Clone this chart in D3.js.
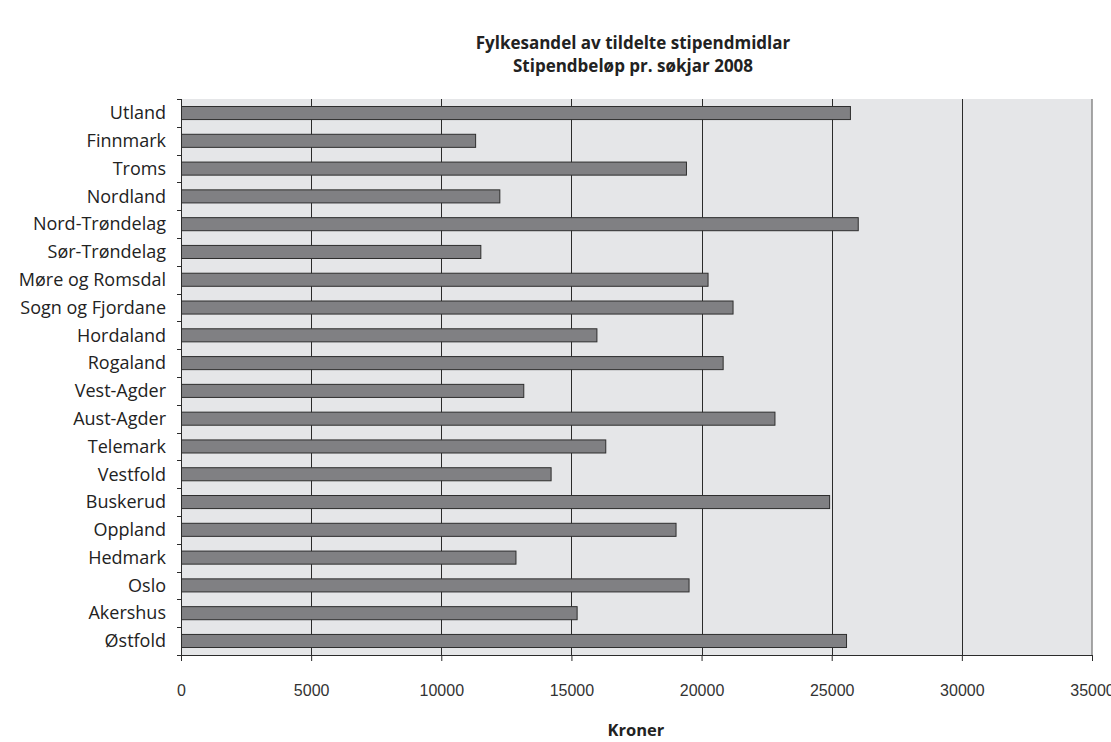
<!DOCTYPE html>
<html>
<head>
<meta charset="utf-8">
<script src="https://cdn.jsdelivr.net/npm/d3@7"></script>
<style>
  body { margin: 0; background: #fff; }
  svg { font-family: "Open Sans", sans-serif; }
</style>
</head>
<body>
<svg id="chart"></svg>
<script>
const W = 1111, H = 742;

// fylker, top to bottom as drawn
const fylker = ["Utland", "Finnmark", "Troms", "Nordland", "Nord-Trøndelag", "Sør-Trøndelag",
  "Møre og Romsdal", "Sogn og Fjordane", "Hordaland", "Rogaland", "Vest-Agder", "Aust-Agder",
  "Telemark", "Vestfold", "Buskerud", "Oppland", "Hedmark", "Oslo", "Akershus", "Østfold"];
const belop = [25700, 11300, 19400, 12230, 26000, 11500,
  20230, 21190, 15960, 20810, 13150, 22800,
  16300, 14200, 24900, 19000, 12850, 19500, 15200, 25550];
const xTicks = [0, 5000, 10000, 15000, 20000, 25000, 30000, 35000];
const titleLines = ["Fylkesandel av tildelte stipendmidlar", "Stipendbeløp pr. søkjar 2008"];
const xTitle = "Kroner";

const margin = { top: 99, right: 19, bottom: 87, left: 181 };
const width = W - margin.left - margin.right,
  height = H - margin.top - margin.bottom;

const svg = d3.select("#chart").attr("width", W).attr("height", H);
const g = svg.append("g").attr("transform", `translate(${margin.left},${margin.top})`);

const x = d3.scaleLinear().domain([0, 35000]).range([0, width]);
const y = d3.scaleBand().domain(fylker).range([0, height]).paddingInner(0.53).paddingOuter(0.27);

// plot background
g.append("rect")
  .attr("width", width).attr("height", height)
  .attr("fill", "#e5e6e8");

// right border
g.append("line")
  .attr("x1", width).attr("x2", width)
  .attr("y1", 0).attr("y2", height)
  .attr("stroke", "#8a8a8a").attr("stroke-width", 1.5);

// vertical gridlines
g.selectAll(".grid")
  .data(xTicks.filter(d => d > 0 && d < 35000))
  .join("line")
  .attr("class", "grid")
  .attr("x1", d => Math.round(x(d)) + 0.5).attr("x2", d => Math.round(x(d)) + 0.5)
  .attr("y1", 0).attr("y2", height)
  .attr("stroke", "#2b2b2b").attr("stroke-width", 1);

// bars
g.selectAll(".bar")
  .data(belop)
  .join("rect")
  .attr("class", "bar")
  .attr("x", 0.5)
  .attr("y", (d, i) => y(fylker[i]))
  .attr("width", d => x(d))
  .attr("height", y.bandwidth())
  .attr("fill", "#808083")
  .attr("stroke", "#2e2e2e")
  .attr("stroke-width", 1);

// x axis
const xAxis = g.append("g")
  .attr("transform", `translate(0,${height})`)
  .call(d3.axisBottom(x).tickValues(xTicks).tickSize(6).tickSizeOuter(0).tickPadding(24)
    .tickFormat(d3.format("d")));
xAxis.select(".domain").attr("stroke", "#2b2b2b");
xAxis.selectAll(".tick line").attr("stroke", "#2b2b2b");
xAxis.selectAll("text").attr("font-size", 16).attr("fill", "#333");

// y axis: ticks at band boundaries
const yAxis = g.append("g");
yAxis.append("line")
  .attr("x1", 0.5).attr("x2", 0.5).attr("y1", 0).attr("y2", height + 4)
  .attr("stroke", "#2b2b2b");
const step = height / fylker.length;
yAxis.selectAll(".ytick")
  .data(d3.range(fylker.length + 1))
  .join("line")
  .attr("class", "ytick")
  .attr("x1", -4).attr("x2", 0)
  .attr("y1", d => Math.round(d * step) + 0.5).attr("y2", d => Math.round(d * step) + 0.5)
  .attr("stroke", "#2b2b2b");
yAxis.selectAll(".ylabel")
  .data(fylker)
  .join("text")
  .attr("class", "ylabel")
  .attr("x", -15)
  .attr("y", d => y(d) + y.bandwidth() / 2)
  .attr("dy", "0.35em")
  .attr("text-anchor", "end")
  .attr("font-size", 18)
  .attr("fill", "#222")
  .text(d => d);

// title
svg.selectAll(".title")
  .data(titleLines)
  .join("text")
  .attr("class", "title")
  .attr("x", 633)
  .attr("y", (d, i) => 49 + i * 23)
  .attr("text-anchor", "middle")
  .attr("font-size", 17)
  .attr("font-weight", "bold")
  .attr("fill", "#222")
  .text(d => d);

// x title
svg.append("text")
  .attr("x", 636)
  .attr("y", 736)
  .attr("text-anchor", "middle")
  .attr("font-size", 16.5)
  .attr("font-weight", "bold")
  .attr("fill", "#222")
  .text(xTitle);
</script>
</body>
</html>
